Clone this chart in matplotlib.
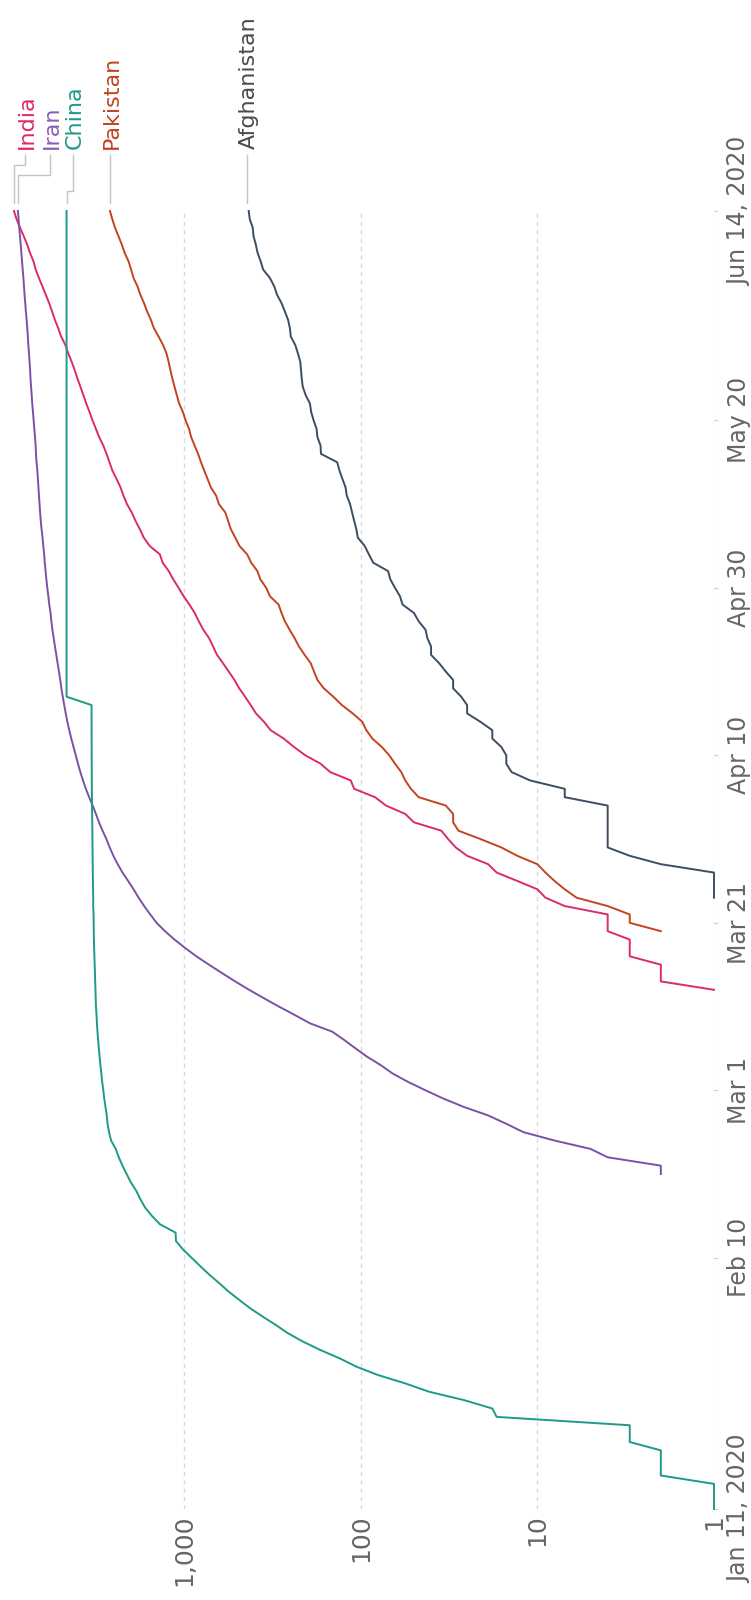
import matplotlib
matplotlib.use("Agg")
import matplotlib.pyplot as plt
import matplotlib.dates as mdates
from matplotlib.lines import Line2D
from matplotlib.ticker import NullLocator
import pandas as pd

# ---------------- data (cumulative deaths, daily) ----------------
china_start = "2020-01-11"
china = ([1, 1, 1, 1, 2, 2, 2, 2, 3, 3, 3, 17, 18, 26, 41, 56, 80, 106, 132, 170, 213]
         + [259, 304, 361, 425, 490, 563, 636, 722, 811, 908, 1016, 1113, 1118, 1371, 1523,
            1665, 1770, 1868, 2004, 2118, 2236, 2345, 2442, 2592, 2663, 2715, 2744, 2788, 2835]
         + [2870, 2912, 2943, 2981, 3012, 3042, 3070, 3097, 3119, 3136, 3158, 3169, 3176, 3189,
            3199, 3213, 3226, 3237, 3245, 3249, 3253, 3259, 3274, 3274, 3281, 3285, 3291, 3296,
            3299, 3304, 3308]
         + [3309, 3316, 3322, 3326, 3330, 3333, 3335, 3337, 3339, 3340, 3343, 3343, 3345, 3345,
            3346, 3346, 4632, 4632, 4632, 4632, 4632, 4632, 4632, 4632, 4632, 4632, 4632, 4632,
            4632, 4632]
         + [4633] * 16 + [4634] * 15
         + [4634] * 14)

iran_start = "2020-02-20"
iran = ([2, 2, 4, 5, 8, 12, 15, 19, 26, 34]
        + [43, 54, 66, 77, 92, 107, 124, 145, 194, 237, 291, 354, 429, 514, 611, 724, 853, 988,
           1135, 1284, 1433, 1556, 1685, 1812, 1934, 2077, 2234, 2378, 2517, 2640, 2757]
        + [2898, 3036, 3160, 3294, 3452, 3603, 3739, 3872, 3993, 4110, 4232, 4357, 4474, 4585,
           4683, 4777, 4869, 4958, 5031, 5118, 5209, 5297, 5391, 5481, 5574, 5650, 5710, 5806,
           5877, 5957]
        + [6028, 6091, 6156, 6203, 6277, 6340, 6418, 6486, 6541, 6589, 6640, 6685, 6733, 6783,
           6854, 6902, 6937, 6988, 7057, 7119, 7183, 7249, 7300, 7359, 7417, 7451, 7508, 7564,
           7627, 7677, 7734]
        + [7797, 7878, 7942, 8012, 8071, 8134, 8209, 8281, 8351, 8425, 8506, 8584, 8659, 8730])

india_start = "2020-03-13"
india = ([1, 2, 2, 2, 3, 3, 3, 4, 4, 4, 7, 9, 10, 13, 17, 19, 25, 29, 32]
         + [35, 50, 56, 72, 83, 109, 114, 149, 169, 206, 239, 273, 324, 353, 392, 420, 452, 488,
            519, 559, 603, 652, 686, 723, 779, 826, 872, 934, 1007, 1075]
         + [1152, 1223, 1323, 1373, 1568, 1694, 1783, 1886, 1981, 2109, 2206, 2293, 2415, 2549,
            2649, 2752, 2872, 3029, 3163, 3303, 3435, 3583, 3720, 3867, 4021, 4167, 4337, 4531,
            4706, 4971, 5164]
         + [5394, 5598, 5815, 6075, 6348, 6642, 6929, 7135, 7466, 7745, 8102, 8498, 8884, 9195])

pakistan_start = "2020-03-20"
pakistan = ([2, 3, 3, 4, 6, 7, 8, 9, 10, 13, 16, 21]
            + [28, 30, 30, 33, 47, 52, 56, 59, 64, 69, 76, 86, 93, 98, 111, 128, 143, 162, 176,
               184, 192, 208, 224, 237, 253, 269, 281, 292, 327, 343]
            + [370, 385, 417, 440, 486, 514, 544, 564, 585, 636, 659, 706, 737, 770, 803, 834,
               873, 913, 939, 982, 1017, 1067, 1101, 1133, 1167, 1197, 1225, 1260, 1317, 1395,
               1483]
            + [1543, 1621, 1688, 1770, 1838, 1935, 1997, 2067, 2172, 2255, 2356, 2463, 2551, 2632])

afghanistan_start = "2020-03-24"
afghanistan = ([1, 1, 1, 1, 2, 3, 4, 4]
               + [4, 4, 4, 4, 7, 7, 11, 14, 15, 15, 16, 18, 18, 21, 25, 25, 27, 30, 30, 33,
                  36, 40, 40, 42, 43, 47, 50, 58, 60, 64]
               + [68, 70, 85, 90, 95, 104, 106, 109, 112, 115, 120, 122, 127, 132, 136, 168,
                  169, 176, 178, 185, 191, 194, 205, 213, 216, 218, 220, 227, 235, 249, 252]
               + [258, 269, 281, 298, 309, 327, 357, 369, 384, 393, 405, 409, 425, 431])

date_ticks = ["2020-01-11", "2020-02-10", "2020-03-01", "2020-03-21",
              "2020-04-10", "2020-04-30", "2020-05-20", "2020-06-14"]
date_labels = ["Jan 11, 2020", "Feb 10", "Mar 1", "Mar 21",
               "Apr 10", "Apr 30", "May 20", "Jun 14, 2020"]
value_ticks = [1, 10, 100, 1000]
value_labels = ["1", "10", "100", "1,000"]

# ---------------- style ----------------
names = ["Afghanistan", "Pakistan", "India", "Iran", "China"]
starts = [afghanistan_start, pakistan_start, india_start, iran_start, china_start]
values = [afghanistan, pakistan, india, iran, china]
line_colors = ["#3c4d63", "#c4441f", "#dc2a6b", "#7b51a7", "#1e9a88"]
label_colors = ["#4a4a4a", "#c4441f", "#dc2a6b", "#8a5db5", "#1e9a88"]
# label offsets (pixels, rotated frame) and elbow heights (pixels from top)
label_dx = [-2, 0, 11, 32, 6]
elbow_y = [None, None, 165, 175, 191]

W, H = 751, 1600
fig = plt.figure(figsize=(W / 100, H / 100), dpi=100)
ax = fig.add_axes([14 / W, (H - 1509) / H, (714 - 14) / W, (1509 - 211) / H])

ax.set_xscale("log")
vmax = max(max(v) for v in values)
ax.set_xlim(vmax, 1)
d0 = mdates.date2num(pd.Timestamp(date_ticks[0]))
d1 = mdates.date2num(pd.Timestamp(date_ticks[-1]))
ax.set_ylim(d0, d1)

for name, st, vals, col in zip(names, starts, values, line_colors):
    dts = pd.date_range(st, periods=len(vals), freq="D")
    ax.plot(vals, mdates.date2num(dts), color=col, lw=1.4,
            solid_joinstyle="round", clip_on=False, zorder=3)

# value axis (horizontal in the picture)
ax.set_xticks(value_ticks)
ax.set_xticklabels(value_labels)
ax.xaxis.set_minor_locator(NullLocator())
ax.tick_params(axis="x", length=0, pad=4, labelsize=18, labelcolor="#666666")
for lbl in ax.get_xticklabels():
    lbl.set_rotation(90)
    lbl.set_va("top")
    lbl.set_ha("center")
ax.grid(axis="x", color="#d9d9d9", ls=(0, (3, 3)), lw=1.0, zorder=0)

# date axis (vertical in the picture, labels on the right)
ax.yaxis.tick_right()
ax.set_yticks([mdates.date2num(pd.Timestamp(d)) for d in date_ticks])
ax.set_yticklabels(date_labels)
ax.tick_params(axis="y", length=3, width=0.8, color="#cccccc", pad=6.5,
               labelsize=17, labelcolor="#666666")
for lbl in ax.get_yticklabels():
    lbl.set_rotation(90)
    lbl.set_va("center")
    lbl.set_ha("left")

for s in ax.spines.values():
    s.set_visible(False)

# ---------------- end labels with leader lines ----------------
inv = fig.transFigure.inverted()


def fig_xy(px, py_from_top):
    return inv.transform((px, H - py_from_top))


y_bottom, y_top, y_text = 203, 155, 149
for name, vals, lcol, dx, ey in zip(names, values, label_colors, label_dx, elbow_y):
    end_px = ax.transData.transform((vals[-1], d1))[0]
    lab_px = end_px + dx
    if ey is None:
        pts = [(lab_px, y_bottom), (lab_px, y_top)]
    else:
        pts = [(end_px, y_bottom), (end_px, ey), (lab_px, ey), (lab_px, y_top)]
    fpts = [fig_xy(px, py) for px, py in pts]
    fig.add_artist(Line2D([p[0] for p in fpts], [p[1] for p in fpts],
                          color="#c4c4c4", lw=1.0, transform=fig.transFigure))
    tx, ty = fig_xy(lab_px + 2, y_text)
    fig.text(tx, ty, name, rotation=90, ha="center", va="bottom",
             fontsize=16, color=lcol)

fig.savefig("out.png", dpi=100)
